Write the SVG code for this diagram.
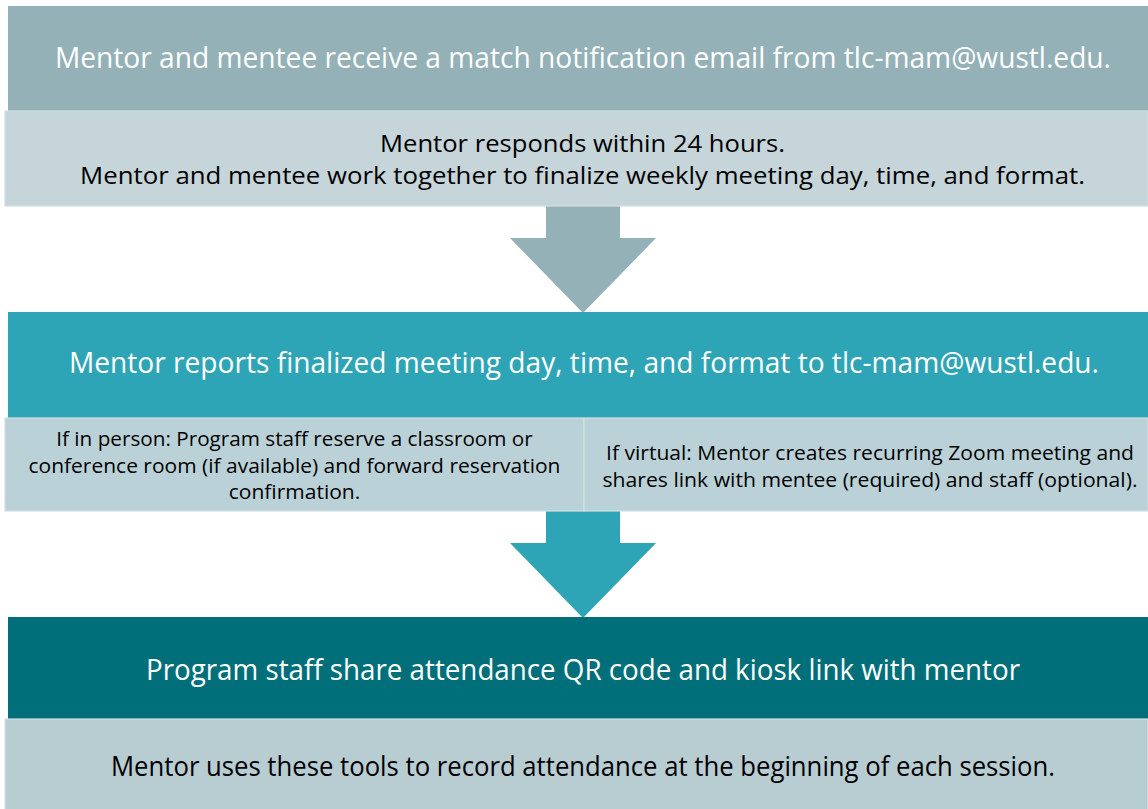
<svg xmlns="http://www.w3.org/2000/svg" width="1148" height="809" viewBox="0 0 1148 809">
<defs>
<style>
.t{font-family:"Open Sans","Liberation Sans",sans-serif;text-anchor:middle}
.w{fill:#ffffff;font-size:28.5px}
.k{fill:#000000}
.s2{font-size:23.8px}
.s4{font-size:19.5px}
.s6{font-size:26.6px}
.lite{stroke:#d3e0e3;stroke-width:1.2}
</style>
</defs>
<rect width="1148" height="809" fill="#ffffff"/>
<g id="connectors">
<polygon points="546,205 620,205 620,238 656,238 583,313 510,238 546,238" fill="#94b1b7"/>
<polygon points="546,511 620,511 620,543 656,543 583,618 510,543 546,543" fill="#2ea5b6"/>
</g>
<g id="n1">
<rect x="8" y="6" width="1140" height="105" fill="#94b1b7"/>
<text class="t w" x="583" y="68.3" textLength="1056" lengthAdjust="spacingAndGlyphs">Mentor and mentee receive a match notification email from tlc-mam@wustl.edu.</text>
</g>
<g id="n2">
<rect x="5" y="111" width="1143" height="95" fill="#c5d5d9" class="lite"/>
<text class="t k s2" x="582.5" y="151.7" textLength="405" lengthAdjust="spacingAndGlyphs">Mentor responds within 24 hours.</text>
<text class="t k s2" x="582.5" y="184.3" textLength="1005" lengthAdjust="spacingAndGlyphs">Mentor and mentee work together to finalize weekly meeting day, time, and format.</text>
</g>
<g id="n3">
<rect x="8" y="312" width="1140" height="106" fill="#2ea5b6"/>
<text class="t w" x="584" y="373" textLength="1030" lengthAdjust="spacingAndGlyphs">Mentor reports finalized meeting day, time, and format to tlc-mam@wustl.edu.</text>
</g>
<g id="n4a">
<rect x="5" y="418" width="579" height="93" fill="#bad2d7" class="lite"/>
<text class="t k s4" x="294.5" y="445.7" textLength="476.5" lengthAdjust="spacingAndGlyphs">If in person: Program staff reserve a classroom or</text>
<text class="t k s4" x="294.5" y="473.3" textLength="532" lengthAdjust="spacingAndGlyphs">conference room (if available) and forward reservation</text>
<text class="t k s4" x="294.5" y="498.5" textLength="131.5" lengthAdjust="spacingAndGlyphs">confirmation.</text>
</g>
<g id="n4b">
<rect x="584" y="418" width="564" height="93" fill="#bad2d7" class="lite"/>
<text class="t k s4" x="870" y="460" textLength="528" lengthAdjust="spacingAndGlyphs">If virtual: Mentor creates recurring Zoom meeting and</text>
<text class="t k s4" x="870" y="487" textLength="535" lengthAdjust="spacingAndGlyphs">shares link with mentee (required) and staff (optional).</text>
</g>
<g id="n5">
<rect x="8" y="617" width="1140" height="102" fill="#016f79"/>
<text class="t w" x="583" y="680" textLength="874" lengthAdjust="spacingAndGlyphs">Program staff share attendance QR code and kiosk link with mentor</text>
</g>
<g id="n6">
<rect x="5" y="719" width="1143" height="91" fill="#b8cdd2" class="lite"/>
<text class="t k s6" x="583" y="775.7" textLength="944" lengthAdjust="spacingAndGlyphs">Mentor uses these tools to record attendance at the beginning of each session.</text>
</g>
</svg>
